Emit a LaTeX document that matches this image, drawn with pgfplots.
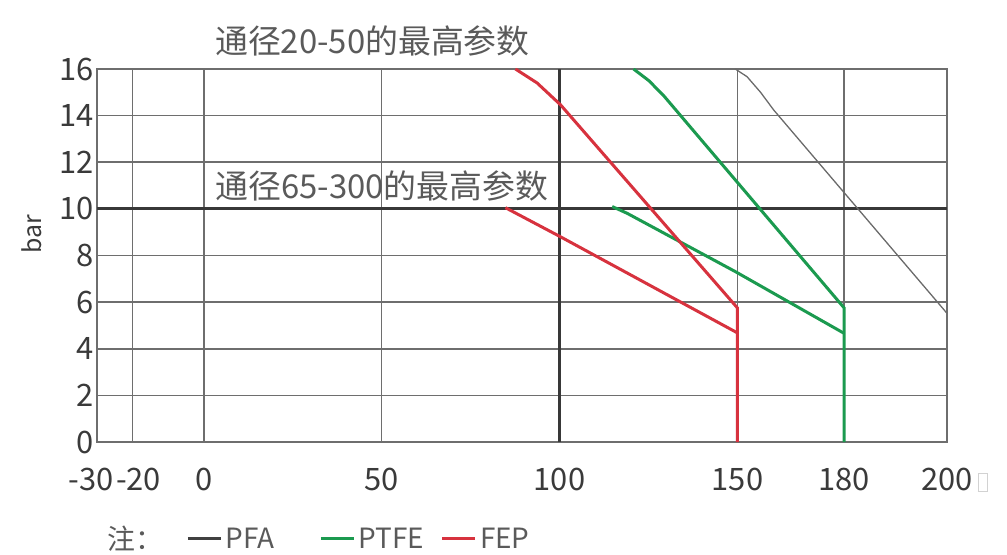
\documentclass[border=0pt]{standalone}
\usepackage{fontspec}
\setmainfont{Noto Sans CJK SC}
\usepackage{pgfplots}
\pgfplotsset{compat=1.18}
\definecolor{fep}{HTML}{D7323E}
\definecolor{ptfe}{HTML}{1B9A4F}
\definecolor{pfa}{HTML}{6A6A6A}
\definecolor{gridc}{HTML}{6E6E6E}
\definecolor{txt}{HTML}{3A3A3A}
\definecolor{titc}{HTML}{5A5A5A}

\begin{document}
\begin{tikzpicture}
\useasboundingbox (-97bp,-113bp) rectangle (910bp,442bp);
\begin{axis}[
  scale only axis,
  width=850bp, height=373bp,
  xmin=-30, xmax=208.9,
  ymin=0, ymax=16,
  xtick={-30,-20,0,50,150,180,208.9},
  xticklabels={\hspace*{-12bp}-30,-20\hspace*{-12bp},0,50,150,180,{200\rlap{\,{\color{gray!35}\setlength{\fboxsep}{0pt}\setlength{\fboxrule}{0.9bp}\framebox[10bp]{\rule{0pt}{17bp}}}}}},
  ytick={0,2,4,6,8,12,14,16},
  extra x ticks={100},
  extra y ticks={10},
  extra tick style={grid=major, grid style={line width=2.8bp, color=black!78}},
  grid=major,
  grid style={line width=1.6bp, color=gridc},
  axis line style={line width=1.6bp, color=gridc},
  major tick length=0pt,
  tick label style={font=\fontsize{31}{31}\selectfont, text=txt},
  xticklabel style={yshift=-23bp},
  /pgf/number format/assume math mode=true,
  clip mode=individual,
  legend style={at={(rel axis cs:0.005,-0.259)}, anchor=west, draw=none, fill=none,
    font=\fontsize{28}{28}\selectfont, text=titc, legend columns=-1,
    /tikz/every odd column/.style={column sep=1bp},
    /tikz/every even column/.style={column sep=15bp}},
  legend image code/.code={\draw[#1] (0bp,0bp) -- (33bp,0bp);},
]

% PFA
\addplot[pfa, line width=1.3bp, forget plot] coordinates {
  (149.4,16.0) (152.7,15.67) (156.5,15.0) (160.2,14.24) (208.9,5.52)
};
% PTFE, 20-50
\addplot[ptfe, line width=3bp, forget plot] coordinates {
  (120.8,16.0) (125.1,15.5) (129.3,14.85) (180,5.75) (180,0)
};
% PTFE, 65-300
\addplot[ptfe, line width=3bp, forget plot] coordinates {
  (114.8,10.1) (119.0,9.81) (149.4,7.31) (180,4.66)
};
% FEP, 20-50
\addplot[fep, line width=3bp, forget plot] coordinates {
  (87.6,16.0) (93.7,15.4) (100.3,14.46) (150,5.75) (150,0)
};
% FEP, 65-300
\addplot[fep, line width=3bp, forget plot] coordinates {
  (84.8,10.05) (100.3,8.8) (150,4.68)
};

\addlegendimage{empty legend}
\addlegendentry{注：\hspace*{6bp}}
\addlegendimage{line width=3.2bp, color=black!75}
\addlegendentry{PFA\hspace*{28bp}}
\addlegendimage{line width=3.2bp, color=ptfe}
\addlegendentry{PTFE}
\addlegendimage{line width=3.2bp, color=fep}
\addlegendentry{FEP}

\node[font=\fontsize{33}{33}\selectfont, text=titc] at (rel axis cs:0.324,1.075) {通径20-50的最高参数};
\node[font=\fontsize{33}{33}\selectfont, text=titc] at (rel axis cs:0.335,0.686) {通径65-300的最高参数};
\node[font=\fontsize{25}{25}\selectfont, text=txt, rotate=90] at (rel axis cs:-0.0765,0.557) {bar};
\end{axis}
\end{tikzpicture}
\end{document}
